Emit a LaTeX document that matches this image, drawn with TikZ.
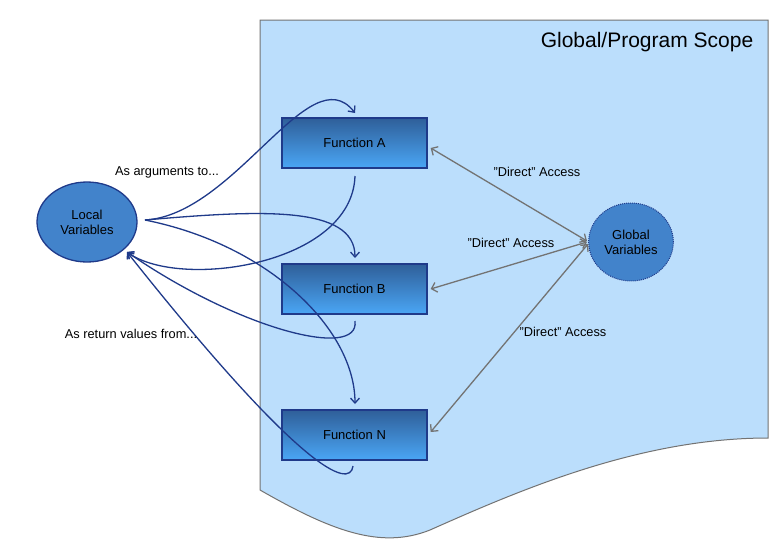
\documentclass[tikz,border=0pt]{standalone}
\usepackage{fontspec}
\setmainfont{Liberation Sans}
\usetikzlibrary{arrows.meta,shapes.geometric}
\definecolor{scopebg}{HTML}{BBDEFC}
\definecolor{navy}{HTML}{1F3A8A}
\definecolor{ellfill}{HTML}{4283CB}
\definecolor{ftop}{HTML}{2F5F99}
\definecolor{fbot}{HTML}{4AA6F5}
\tikzset{
 func/.style={draw=navy,line width=1.3pt,top color=ftop,bottom color=fbot,minimum width=145pt,minimum height=50pt,font=\fontsize{13}{15}\selectfont},
 flow/.style={navy,line width=1.3pt,-{Straight Barb[length=5pt,width=9pt]}},
 direct/.style={draw=black!55,line width=1.3pt,{Straight Barb[length=5pt,width=10pt]}-{Straight Barb[length=5pt,width=10pt]}},
 lbl/.style={font=\fontsize{12.8}{15}\selectfont},
}
\begin{document}
\begin{tikzpicture}[x=1pt,y=-1pt]
\useasboundingbox (0,0) rectangle (784,549);
\fill[white] (0,0) rectangle (784,549);
\draw[fill=scopebg,draw=black!55,line width=1pt] (260,20) -- (768,20) -- (768,438)
  .. controls (640,438) and (520,490) .. (430,530) .. controls (380,550) and (330,530) .. (260,490) -- cycle;
\node[font=\fontsize{21}{24}\selectfont] (title) at (647,42) {Global/Program Scope};
\node[func] (A) at (354.5,143) {Function A};
\node[func] (B) at (354.5,289) {Function B};
\node[func] (N) at (354.5,435) {Function N};
\node[ellipse,draw=navy,line width=1.3pt,fill=ellfill,minimum width=100pt,minimum height=80pt,align=center,font=\fontsize{13}{15}\selectfont] (L) at (87,222) {Local\\Variables};
\node[ellipse,draw=navy,densely dotted,line width=1pt,fill=ellfill,minimum width=84pt,minimum height=78pt,align=center,font=\fontsize{13}{15}\selectfont] (G) at (631,242) {Global\\Variables};
\coordinate (Ain) at (355,113);
\coordinate (Aout) at (355,176);
\coordinate (Bin) at (355,258);
\coordinate (Bout) at (355,321);
\coordinate (Nin) at (355,404);
\coordinate (Nout) at (353,466);
\coordinate (Lr) at (145,220);
\coordinate (Lin) at (127,252);
\draw[flow] (Lr) .. controls (235,215) and (310,55) .. (Ain);
\draw[flow] (Aout) .. controls (352,265) and (180,290) .. (Lin);
\draw[flow] (Lr) .. controls (260,210) and (355,205) .. (Bin);
\draw[flow] (Bout) .. controls (360,360) and (240,330) .. (Lin);
\draw[flow] (Lr) .. controls (270,245) and (355,330) .. (Nin);
\draw[flow] (Nout) .. controls (350,490) and (300,470) .. (Lin);
\draw[direct] (A.east)++(3,5) -- (587,241);
\draw[direct] (B.east)++(3,0) -- (587,242);
\draw[direct] (N.east)++(3,-3) -- (588,244);
\node[lbl] (t1) at (167,172) {As arguments to...};
\node[lbl] (t2) at (131,334) {As return values from...};
\node[lbl] (d1) at (537,172) {"Direct" Access};
\node[lbl] (d2) at (511,243) {"Direct" Access};
\node[lbl] (d3) at (563,332) {"Direct" Access};
\end{tikzpicture}
\end{document}
